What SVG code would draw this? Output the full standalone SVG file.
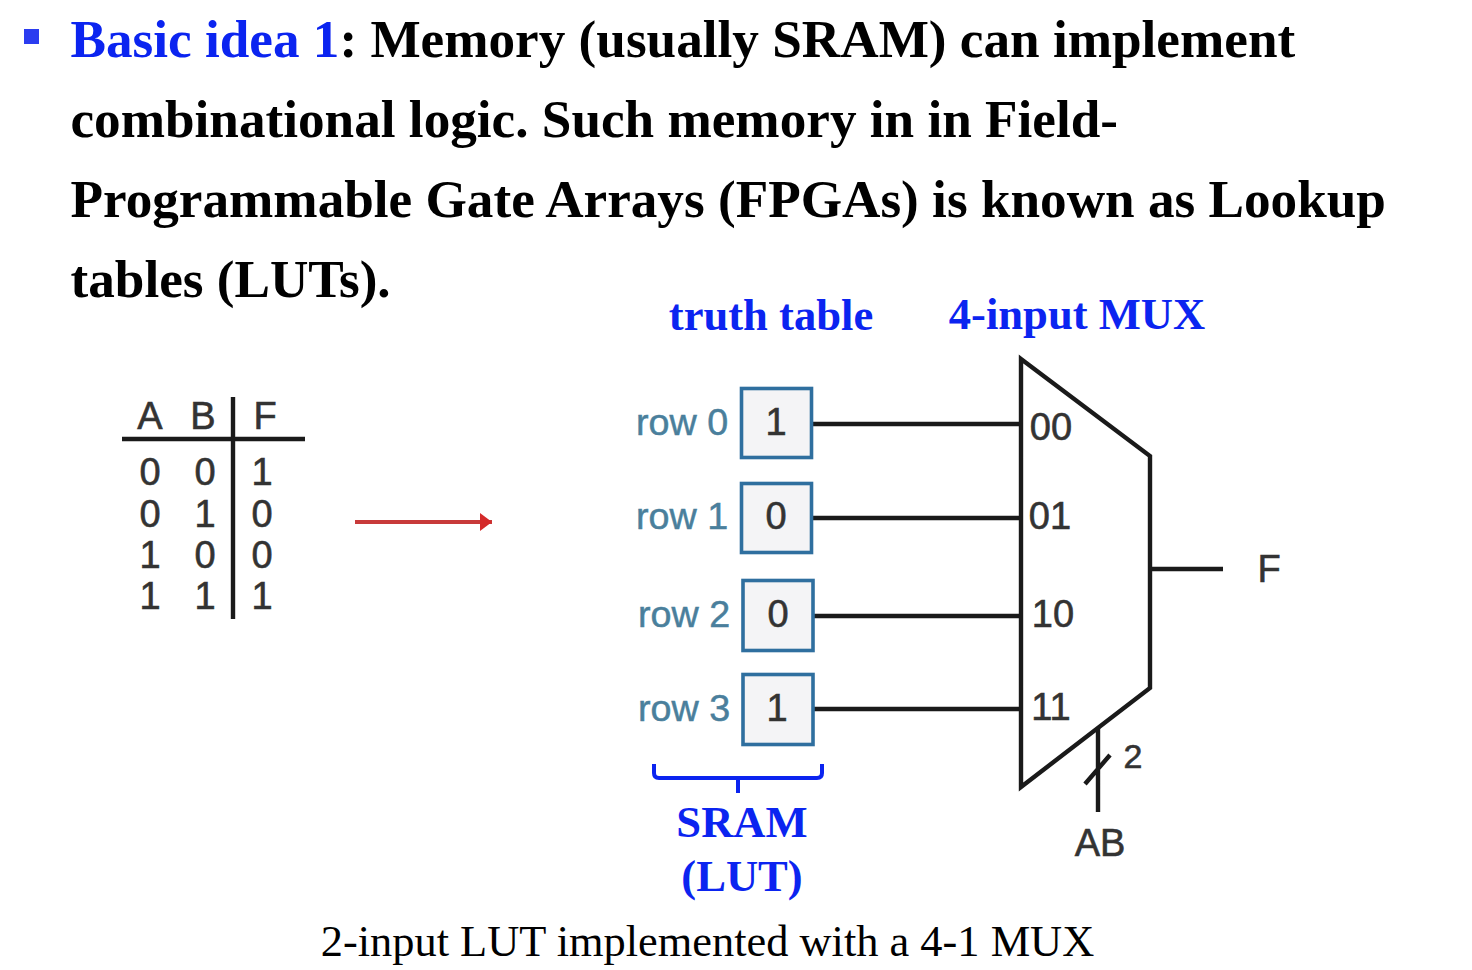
<svg xmlns="http://www.w3.org/2000/svg" width="1472" height="970" viewBox="0 0 1472 970">
<style>
.h{font-family:"Liberation Serif","Times New Roman",serif;font-weight:bold;font-size:53.2px;fill:#000}
.b{fill:#0b24f0}
.l{font-family:"Liberation Serif","Times New Roman",serif;font-weight:bold;font-size:44.6px;fill:#0b24f0;text-anchor:middle}
.s{font-family:"Liberation Sans",Arial,sans-serif;font-size:38px;fill:#333;stroke:#333;stroke-width:.6;text-anchor:middle}
.r{font-family:"Liberation Sans",Arial,sans-serif;font-size:37.7px;fill:#4a7f9c;stroke:#4a7f9c;stroke-width:.5}
.w{stroke:#1a1a1a;stroke-width:4.4;fill:none}
.c{fill:#f4f4f6;stroke:#2f6f9f;stroke-width:3.6}
</style>
<defs><marker id="ah" markerUnits="userSpaceOnUse" markerWidth="14" markerHeight="20" refX="12" refY="9" orient="auto"><path d="M0 0L12 9L0 18Z" fill="#d42a2a"/></marker></defs>
<g id="heading">
<rect x="24" y="29" width="15" height="15" fill="#2b3cf0"/>
<text class="h" x="70.500" y="57"><tspan class="b">Basic idea 1</tspan>: Memory (usually SRAM) can implement</text>
<text class="h" x="70.500" y="137">combinational logic. Such memory in in Field-</text>
<text class="h" x="70.500" y="217">Programmable Gate Arrays (FPGAs) is known as Lookup</text>
<text class="h" x="70.500" y="297">tables (LUTs).</text>
</g>
<g id="truth-table">
<path class="w" d="M122 439H305M233 397V619"/>
<text class="s" x="150" y="429">A</text><text class="s" x="203" y="429">B</text><text class="s" x="265" y="429">F</text>
<text class="s" x="150" y="485">0</text><text class="s" x="205" y="485">0</text><text class="s" x="262" y="485">1</text>
<text class="s" x="150" y="527">0</text><text class="s" x="205" y="527">1</text><text class="s" x="262" y="527">0</text>
<text class="s" x="150" y="568">1</text><text class="s" x="205" y="568">0</text><text class="s" x="262" y="568">0</text>
<text class="s" x="150" y="609">1</text><text class="s" x="205" y="609">1</text><text class="s" x="262" y="609">1</text>
</g>
<g id="connectors">
<path d="M355 522H492" stroke="#c83a3a" stroke-width="4" fill="none" marker-end="url(#ah)"/>
<path class="w" d="M813 424H1021M813 518H1021M814 616H1021M814 709H1021M1150 569H1223M1098 728V812M1085 784L1110 755"/>
</g>
<g id="title-truth-table"><text class="l" x="771" y="330">truth table</text></g>
<g id="title-mux"><text class="l" x="1077" y="329">4-input MUX</text></g>
<g id="row0"><text class="r" x="636" y="435">row 0</text><rect class="c" x="741.500" y="388.500" width="70" height="69"/><text class="s" x="776" y="435">1</text></g>
<g id="row1"><text class="r" x="636" y="529">row 1</text><rect class="c" x="741.500" y="483.500" width="70" height="69"/><text class="s" x="776" y="529">0</text></g>
<g id="row2"><text class="r" x="638" y="627">row 2</text><rect class="c" x="743" y="580.500" width="70" height="70"/><text class="s" x="778" y="627">0</text></g>
<g id="row3"><text class="r" x="638" y="721">row 3</text><rect class="c" x="743" y="674.500" width="70" height="70"/><text class="s" x="777" y="721">1</text></g>
<g id="sram">
<path d="M654 764V773Q654 778 659 778H817Q822 778 822 773V764M738 778V793" stroke="#0b24f0" stroke-width="4" fill="none"/>
<text class="l" x="742" y="837">SRAM</text><text class="l" x="742" y="891">(LUT)</text>
</g>
<g id="mux">
<path class="w" d="M1021 359L1150 456V688L1021 787Z"/>
<text class="s" x="1051" y="440">00</text><text class="s" x="1050" y="529">01</text><text class="s" x="1053" y="627">10</text><text class="s" x="1051" y="720">11</text>
<text class="s" x="1133" y="768" style="font-size:34px">2</text>
<text class="s" x="1269" y="582">F</text>
<text class="s" x="1100" y="856">AB</text>
</g>
<g id="caption"><text x="707.500" y="956" text-anchor="middle" style="font-family:'Liberation Serif','Times New Roman',serif;font-size:44.4px;fill:#000">2-input LUT implemented with a 4-1 MUX</text></g>
</svg>
